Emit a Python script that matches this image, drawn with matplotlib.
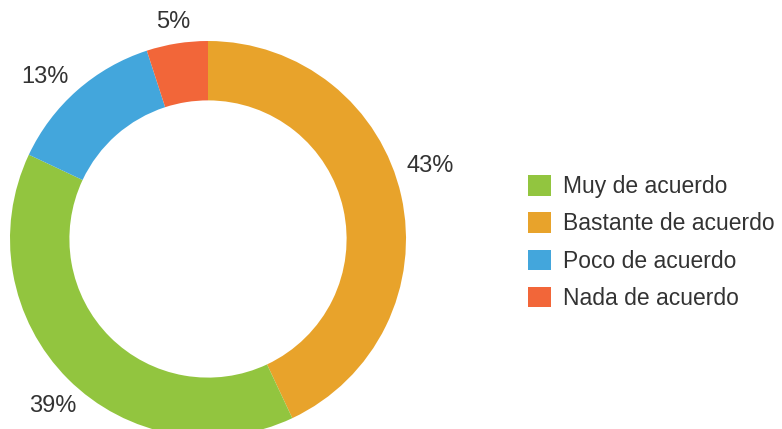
import numpy as np
import matplotlib
matplotlib.use('Agg')
import matplotlib.pyplot as plt

plt.rcParams['font.family'] = ['Liberation Sans', 'DejaVu Sans']

# data, clockwise from the top
labels = ['Bastante de acuerdo', 'Muy de acuerdo', 'Poco de acuerdo', 'Nada de acuerdo']
values = [43, 39, 13, 5]
colors = ['#E8A32B', '#92C53F', '#43A6DC', '#F26639']
legend_order = ['Muy de acuerdo', 'Bastante de acuerdo', 'Poco de acuerdo', 'Nada de acuerdo']

# label placement tweaks (radius, extra angle in degrees)
label_r = [1.18, 1.15, 1.16, 1.11]
label_dang = [5.5, 2.0, 3.8, 0.0]

W, H = 782, 429
fig = plt.figure(figsize=(W / 100, H / 100), dpi=100)

# donut centre ~ (208, 239) px, radius ~198 px
cx, cy, r = 208, 239, 198
ax = fig.add_axes([(cx - r) / W, (H - cy - r) / H, 2 * r / W, 2 * r / H])
wedges, _ = ax.pie(values, colors=colors, startangle=90, counterclock=False,
                   wedgeprops=dict(width=0.30, edgecolor='none'))
ax.set_xlim(-1, 1)
ax.set_ylim(-1, 1)
ax.set_axis_off()

# percentage labels outside the ring
for w, v, lr, da in zip(wedges, values, label_r, label_dang):
    ang = np.deg2rad((w.theta1 + w.theta2) / 2 + da)
    ax.text(lr * np.cos(ang), lr * np.sin(ang), '%d%%' % v,
            ha='center', va='center', fontsize=17, color='#333333',
            clip_on=False)

handles = [wedges[labels.index(l)] for l in legend_order]
fig.legend(handles, legend_order, loc='upper left',
           bbox_to_anchor=(528 / W, 1 - 175 / H), frameon=False,
           fontsize=16.5, handlelength=1.0, handleheight=1.0,
           handletextpad=0.52, labelspacing=0.62, borderpad=0,
           borderaxespad=0, labelcolor='#333333')

fig.savefig('out.png', dpi=100)
